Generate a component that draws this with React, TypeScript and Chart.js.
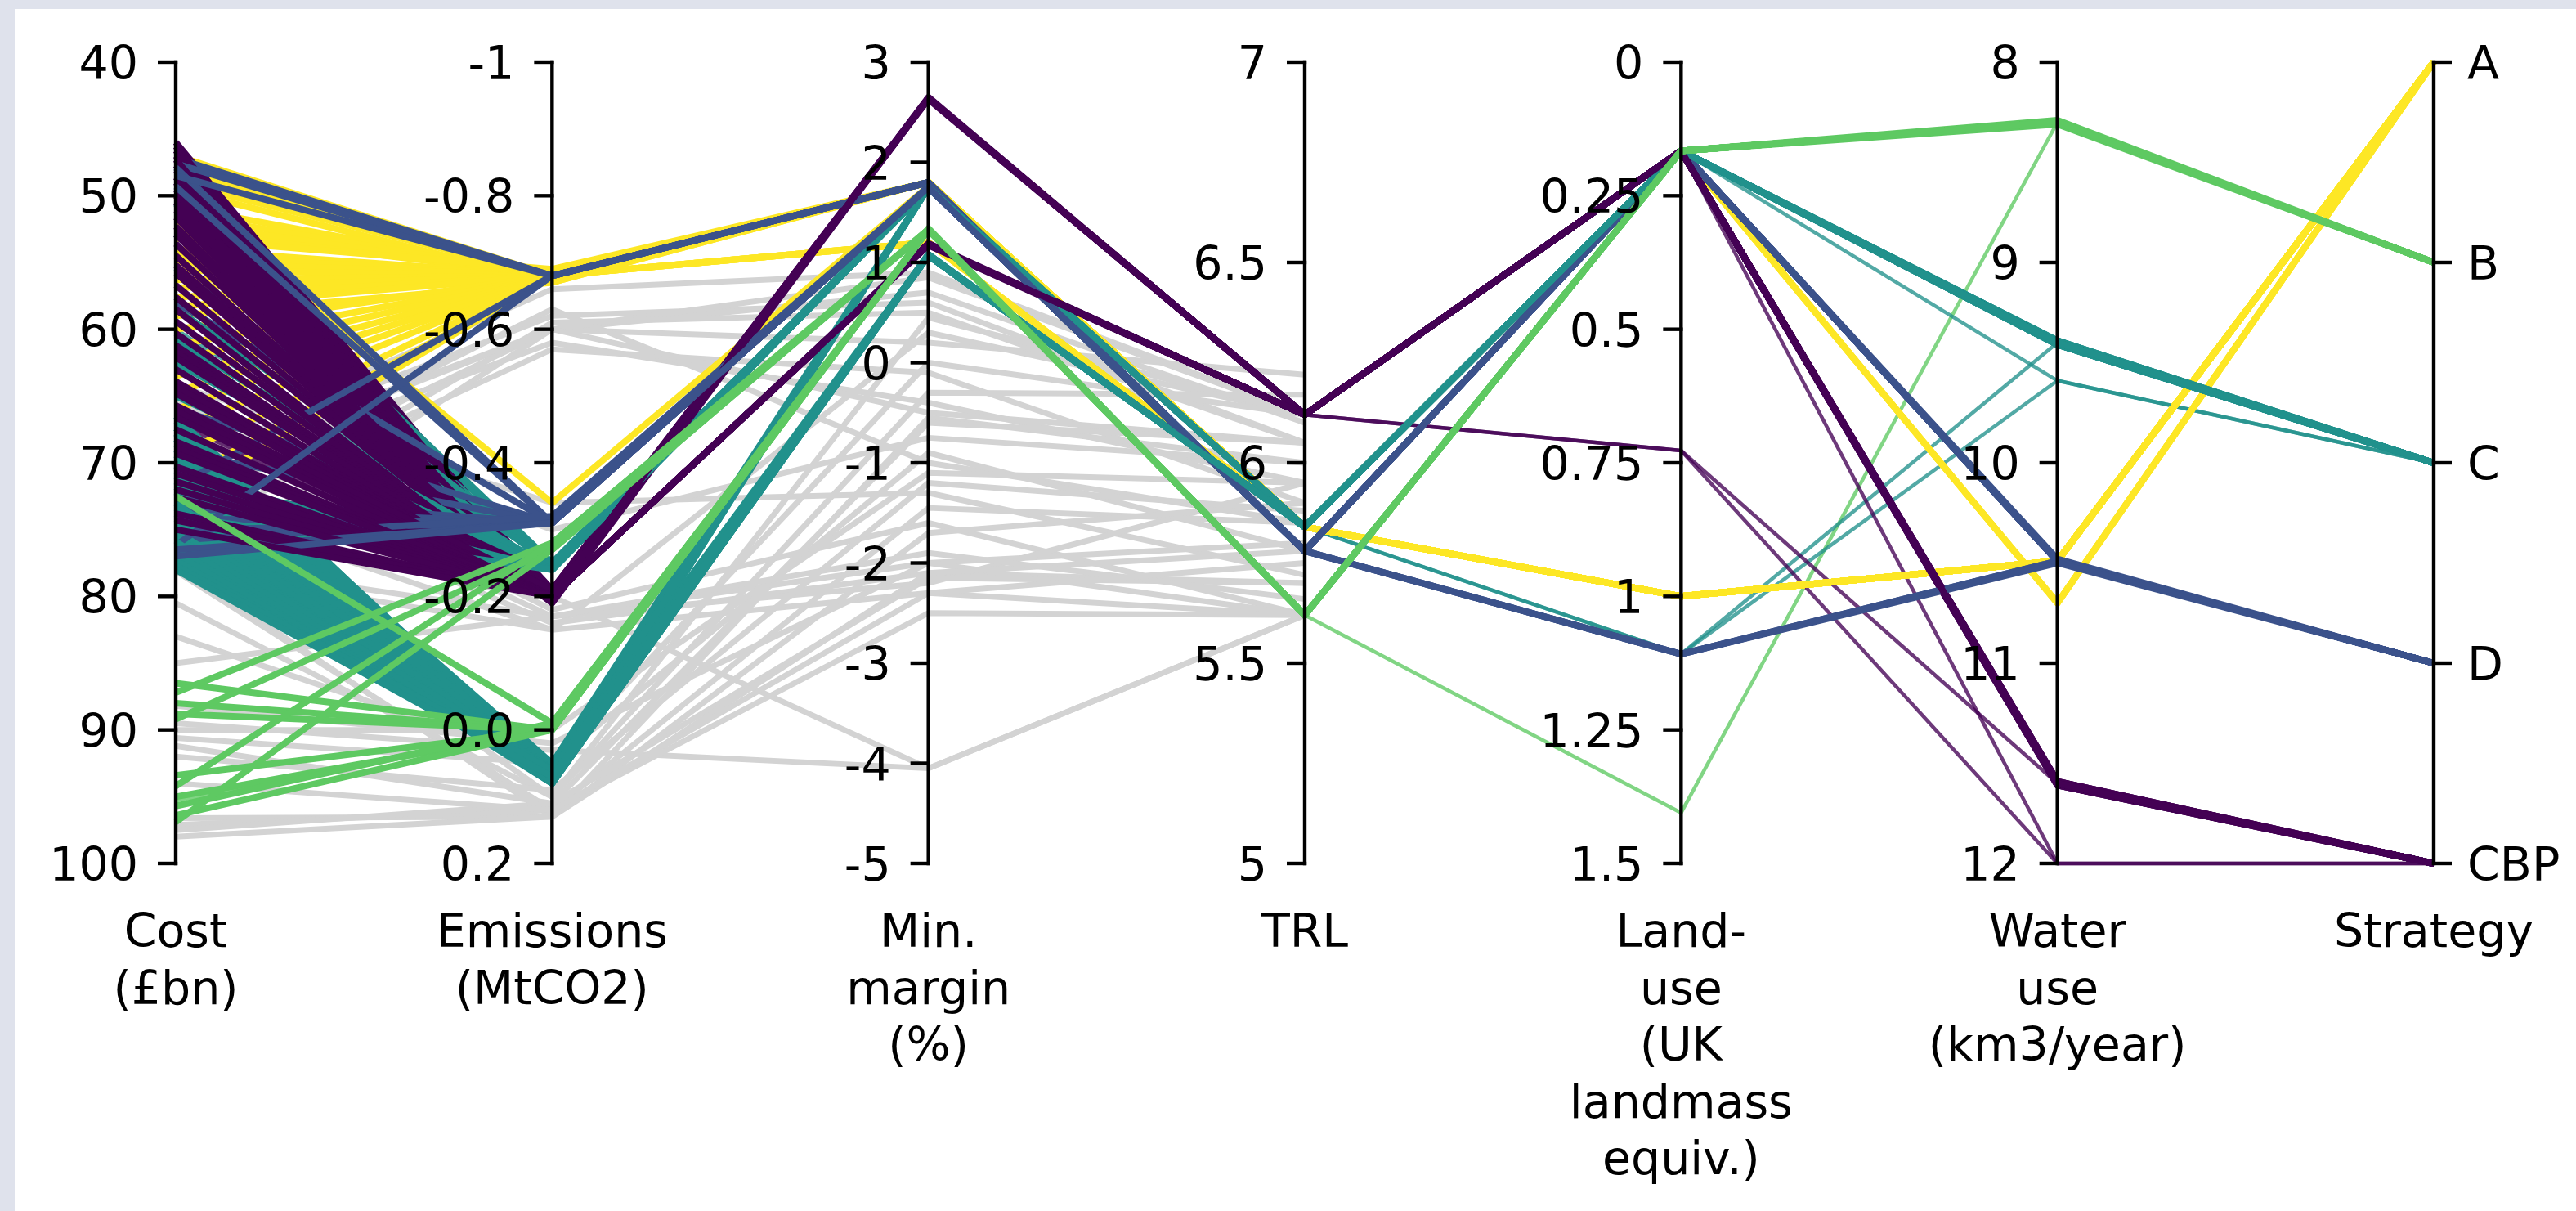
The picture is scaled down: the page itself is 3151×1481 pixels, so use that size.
import React, { useEffect, useRef } from "react";
import { Chart, registerables } from "chart.js";

Chart.register(...registerables);

// ---------------- axes ----------------
const axisTitles: string[][] = [
  ["Cost", "(£bn)"],
  ["Emissions", "(MtCO2)"],
  ["Min.", "margin", "(%)"],
  ["TRL"],
  ["Land-", "use", "(UK", "landmass", "equiv.)"],
  ["Water", "use", "(km3/year)"],
  ["Strategy"],
];
// value shown at the top / bottom end of each vertical axis
const axisTop = [40, -1, 3, 7, 0, 8, 0];
const axisBottom = [100, 0.2, -5, 5, 1.5, 12, 4];

const costTicks = [40, 50, 60, 70, 80, 90, 100];
const emissionTicks = [-1, -0.8, -0.6, -0.4, -0.2, 0, 0.2];
const emissionTickLabels = ["-1", "-0.8", "-0.6", "-0.4", "-0.2", "0.0", "0.2"];
const marginTicks = [3, 2, 1, 0, -1, -2, -3, -4, -5];
const trlTicks = [7, 6.5, 6, 5.5, 5];
const landTicks = [0, 0.25, 0.5, 0.75, 1, 1.25, 1.5];
const waterTicks = [8, 9, 10, 11, 12];
const strategies = ["A", "B", "C", "D", "CBP"];

// ---------------- solutions ----------------
// each row: [cost £bn, emissions MtCO2, min. margin %, TRL, land-use, water use km3/yr]
const strategyA: number[][] = [
  [47.0, -0.68, 1.8, 5.84, 1.0, 10.49],
  [47.8, -0.68, 1.8, 5.84, 1.0, 10.49],
  [48.2, -0.68, 1.2, 5.84, 0.166, 10.7],
  [49.0, -0.68, 1.8, 5.84, 1.0, 10.49],
  [49.5, -0.67, 1.8, 5.84, 1.0, 10.49],
  [50.0, -0.34, 1.76, 5.84, 1.0, 10.49],
  [50.8, -0.68, 1.8, 5.84, 1.0, 10.49],
  [51.4, -0.68, 1.8, 5.84, 1.0, 10.49],
  [52.0, -0.68, 1.2, 5.84, 0.166, 10.7],
  [52.6, -0.68, 1.8, 5.84, 1.0, 10.49],
  [53.2, -0.69, 1.8, 5.84, 1.0, 10.49],
  [54.0, -0.68, 1.8, 5.84, 1.0, 10.49],
  [54.5, -0.68, 1.8, 5.84, 1.0, 10.49],
  [55.0, -0.68, 1.8, 5.84, 1.0, 10.49],
  [55.6, -0.68, 1.8, 5.84, 1.0, 10.49],
  [56.3, -0.68, 1.2, 5.84, 0.166, 10.7],
  [56.9, -0.68, 1.8, 5.84, 1.0, 10.49],
  [57.6, -0.68, 1.8, 5.84, 1.0, 10.49],
  [58.3, -0.68, 1.8, 5.84, 1.0, 10.49],
  [59.0, -0.67, 1.8, 5.84, 1.0, 10.49],
  [60.0, -0.68, 1.8, 5.84, 1.0, 10.49],
  [61.2, -0.68, 1.8, 5.84, 1.0, 10.49],
  [62.3, -0.68, 1.8, 5.84, 1.0, 10.49],
  [63.5, -0.68, 1.2, 5.84, 0.166, 10.7],
  [64.7, -0.68, 1.8, 5.84, 1.0, 10.49],
  [66.0, -0.68, 1.8, 5.84, 1.0, 10.49],
  [67.5, -0.68, 1.8, 5.84, 1.0, 10.49],
  [69.5, -0.68, 1.8, 5.84, 1.0, 10.49],
  [71.5, -0.68, 1.8, 5.84, 1.0, 10.49],
  [72.8, -0.68, 1.8, 5.84, 1.0, 10.49],
];
const strategyB: number[][] = [
  [86.5, 0.0, 1.33, 5.62, 0.166, 8.3],
  [87.2, -0.28, 1.33, 5.62, 0.166, 8.3],
  [88.0, 0.0, 1.34, 5.62, 0.166, 8.29],
  [88.8, 0.0, 1.33, 5.62, 0.166, 8.3],
  [89.2, -0.27, 1.33, 5.62, 0.166, 8.3],
  [93.4, 0.0, 1.33, 5.62, 0.166, 8.3],
  [94.2, -0.28, 1.32, 5.62, 0.166, 8.31],
  [95.0, 0.0, 1.33, 5.62, 0.166, 8.3],
  [95.7, -0.01, 1.33, 5.62, 0.166, 8.3],
  [96.4, 0.0, 1.33, 5.62, 0.166, 8.3],
  [96.9, -0.27, 1.33, 5.62, 0.166, 8.3],
  [72.5, -0.01, 1.33, 5.62, 0.166, 8.3],
];
const strategyC: number[][] = [
  [49.8, -0.24, 1.75, 5.84, 0.166, 9.4],
  [66.5, 0.07, 1.08, 5.84, 0.166, 9.4],
  [66.9, 0.06, 1.75, 5.84, 0.166, 9.4],
  [50.6, -0.25, 1.74, 5.84, 0.166, 9.41],
  [67.4, 0.07, 1.75, 5.84, 0.166, 9.4],
  [67.8, 0.05, 1.07, 5.84, 0.166, 9.4],
  [52.9, -0.24, 1.75, 5.84, 0.166, 9.4],
  [68.2, 0.07, 1.07, 5.84, 0.166, 9.41],
  [68.6, 0.08, 1.75, 5.84, 0.166, 9.4],
  [55.4, -0.25, 1.75, 5.84, 0.166, 9.4],
  [69.0, 0.07, 1.08, 5.84, 0.166, 9.4],
  [69.4, 0.06, 1.07, 5.84, 0.166, 9.4],
  [58.5, -0.25, 1.75, 5.84, 0.166, 9.4],
  [69.8, 0.07, 1.75, 5.84, 0.166, 9.4],
  [70.2, 0.08, 1.07, 5.84, 0.166, 9.39],
  [60.8, -0.24, 1.75, 5.84, 0.166, 9.4],
  [70.6, 0.07, 1.07, 5.84, 0.166, 9.4],
  [71.0, 0.05, 1.75, 5.84, 0.166, 9.4],
  [62.5, -0.24, 1.75, 5.84, 0.166, 9.4],
  [71.4, 0.06, 1.07, 5.84, 0.166, 9.4],
  [71.8, 0.07, 1.08, 5.84, 0.166, 9.4],
  [65.0, -0.24, 1.76, 5.84, 0.166, 9.39],
  [72.2, 0.07, 1.75, 5.84, 0.166, 9.39],
  [72.6, 0.08, 1.07, 5.84, 0.166, 9.4],
  [71.0, -0.24, 1.75, 5.84, 0.166, 9.4],
  [73.0, 0.07, 1.07, 5.84, 0.166, 9.4],
  [73.4, 0.06, 1.07, 5.84, 0.166, 9.41],
  [73.8, 0.07, 1.08, 5.84, 0.166, 9.4],
  [74.0, -0.24, 1.75, 5.84, 0.166, 9.4],
  [74.2, 0.08, 1.75, 5.84, 0.166, 9.4],
  [74.6, 0.07, 1.75, 5.84, 0.166, 9.4],
  [75.1, 0.06, 1.07, 5.84, 0.166, 9.4],
  [75.5, 0.07, 1.07, 5.84, 0.166, 9.4],
  [75.9, 0.08, 1.07, 5.84, 0.166, 9.41],
  [76.4, 0.08, 1.07, 5.84, 0.166, 9.41],
  [76.8, 0.07, 1.75, 5.84, 0.166, 9.4],
  [77.3, 0.07, 1.75, 5.84, 0.166, 9.4],
  [77.7, 0.06, 1.07, 5.84, 0.166, 9.4],
  [78.0, 0.07, 1.07, 5.84, 0.166, 9.4],
];
const strategyD: number[][] = [
  [47.2, -0.68, 1.8, 5.78, 0.166, 10.49],
  [47.6, -0.68, 1.8, 5.78, 0.166, 10.49],
  [47.9, -0.31, 1.75, 5.78, 0.166, 10.49],
  [48.5, -0.68, 1.8, 5.78, 0.166, 10.49],
  [49.3, -0.31, 1.75, 5.78, 0.166, 10.49],
  [58.0, -0.31, 1.75, 5.78, 0.166, 10.49],
  [66.0, -0.31, 1.75, 5.78, 1.108, 10.49],
  [69.2, -0.31, 1.75, 5.78, 0.166, 10.49],
  [71.8, -0.68, 1.8, 5.78, 0.166, 10.49],
  [72.5, -0.31, 1.75, 5.78, 0.166, 10.49],
  [73.4, -0.31, 1.75, 5.78, 0.166, 10.49],
  [74.2, -0.31, 1.76, 5.78, 0.166, 10.48],
  [75.0, -0.31, 1.75, 5.78, 1.108, 10.49],
  [75.8, -0.32, 1.75, 5.78, 0.166, 10.49],
  [76.2, -0.68, 1.8, 5.78, 0.166, 10.49],
  [76.5, -0.31, 1.75, 5.78, 0.166, 10.49],
  [77.0, -0.31, 1.75, 5.78, 1.108, 10.5],
];
const strategyCBP: number[][] = [
  [46.0, -0.2, 2.64, 6.12, 0.166, 11.6],
  [46.3, -0.2, 1.18, 6.12, 0.166, 11.6],
  [46.6, -0.2, 1.18, 6.12, 0.166, 11.6],
  [47.0, -0.2, 2.64, 6.12, 0.166, 11.6],
  [47.3, -0.2, 2.64, 6.12, 0.166, 11.61],
  [47.7, -0.2, 1.18, 6.12, 0.166, 11.6],
  [48.1, -0.2, 1.18, 6.12, 0.166, 11.6],
  [48.6, -0.2, 2.64, 6.12, 0.166, 11.6],
  [49.0, -0.21, 2.64, 6.12, 0.166, 11.6],
  [49.5, -0.2, 1.18, 6.12, 0.166, 11.6],
  [50.0, -0.2, 1.19, 6.12, 0.166, 11.59],
  [50.5, -0.2, 2.64, 6.12, 0.166, 11.6],
  [51.1, -0.2, 2.64, 6.12, 0.166, 11.6],
  [51.6, -0.2, 1.18, 6.12, 0.166, 11.6],
  [52.3, -0.2, 1.18, 6.12, 0.166, 11.6],
  [52.9, -0.2, 2.64, 6.12, 0.166, 11.6],
  [53.6, -0.2, 2.65, 6.12, 0.166, 11.6],
  [54.5, -0.2, 1.18, 6.12, 0.166, 11.6],
  [55.2, -0.2, 2.64, 6.12, 0.166, 11.6],
  [55.8, -0.2, 1.18, 6.12, 0.166, 11.61],
  [56.7, -0.2, 2.64, 6.12, 0.166, 11.6],
  [57.6, -0.2, 1.18, 6.12, 0.166, 11.6],
  [58.5, -0.19, 2.64, 6.12, 0.166, 11.6],
  [59.4, -0.2, 1.18, 6.12, 0.166, 11.6],
  [60.3, -0.2, 2.64, 6.12, 0.166, 11.59],
  [61.2, -0.2, 1.18, 6.12, 0.166, 11.6],
  [61.7, -0.2, 2.64, 6.12, 0.166, 11.6],
  [62.1, -0.2, 2.64, 6.12, 0.166, 11.6],
  [63.0, -0.2, 1.17, 6.12, 0.166, 11.6],
  [63.9, -0.2, 2.64, 6.12, 0.166, 11.61],
  [64.3, -0.2, 1.18, 6.12, 0.166, 11.6],
  [64.8, -0.2, 1.18, 6.12, 0.166, 11.6],
  [65.7, -0.21, 2.64, 6.12, 0.166, 11.6],
  [66.1, -0.2, 2.64, 6.12, 0.166, 11.6],
  [66.6, -0.2, 1.18, 6.12, 0.166, 11.6],
  [67.5, -0.2, 2.63, 6.12, 0.166, 11.6],
  [68.4, -0.2, 1.18, 6.12, 0.166, 11.6],
  [68.9, -0.2, 2.64, 6.12, 0.166, 11.6],
  [69.3, -0.2, 2.64, 6.12, 0.166, 11.6],
  [70.3, -0.2, 1.18, 6.12, 0.166, 11.6],
  [70.8, -0.2, 1.18, 6.12, 0.166, 11.6],
  [71.4, -0.2, 2.64, 6.12, 0.166, 11.59],
  [72.0, -0.2, 2.64, 6.12, 0.166, 11.6],
  [72.6, -0.2, 1.18, 6.12, 0.166, 11.6],
  [73.8, -0.2, 2.64, 6.12, 0.166, 11.6],
  [74.3, -0.2, 1.18, 6.12, 0.166, 11.6],
  [75.0, -0.2, 1.18, 6.12, 0.166, 11.6],
];
// sparser solutions (drawn as thin lines)
const minorA: number[][] = [];
const minorB: number[][] = [[95.3, 0.0, 1.33, 5.62, 1.405, 8.3]];
const minorC: number[][] = [
  [60.0, -0.24, 1.75, 5.84, 0.166, 9.59],
  [70.0, 0.07, 1.07, 5.84, 1.108, 9.59],
  [75.0, 0.07, 1.75, 5.84, 1.108, 9.4],
];
const minorD: number[][] = [];
const minorCBP: number[][] = [
  [61.5, -0.2, 1.18, 6.12, 0.166, 12.0],
  [64.0, -0.2, 1.18, 6.12, 0.727, 11.6],
  [67.0, -0.2, 1.18, 6.12, 0.727, 12.0],
];
// infeasible / unselected solutions: [cost, emissions, min. margin, TRL]
const otherSolutions: number[][] = [
  [69.5, -0.66, 0.9, 6.12],
  [70.0, -0.62, 0.6, 6.05],
  [71.0, -0.6, 0.7, 6.1],
  [70.5, -0.6, 0.2, 6.22],
  [71.5, -0.58, -0.4, 5.95],
  [72.5, -0.63, -1.0, 5.85],
  [73.5, -0.6, 0.85, 6.12],
  [74.5, -0.57, -0.1, 5.9],
  [76.0, -0.61, 0.5, 6.05],
  [64.2, -0.34, -1.3, 5.72],
  [65.5, -0.3, -0.75, 6.0],
  [67.0, -0.18, -1.6, 5.62],
  [68.5, -0.17, -2.0, 5.8],
  [70.0, -0.16, -2.1, 5.7],
  [71.5, -0.2, -4.05, 5.62],
  [73.0, -0.15, 0.3, 6.12],
  [77.4, -0.17, -2.2, 5.95],
  [77.9, -0.15, -2.3, 5.62],
  [78.3, -0.6, -0.5, 6.05],
  [77.6, 0.13, -0.55, 6.0],
  [78.1, 0.12, -1.45, 5.85],
  [80.5, 0.1, 0.45, 6.12],
  [83.0, 0.05, -0.9, 5.78],
  [88.2, 0.02, -2.0, 5.62],
  [89.5, 0.03, -4.05, 5.62],
  [90.0, 0.0, -1.1, 5.95],
  [90.6, 0.05, 0.0, 6.12],
  [91.2, 0.11, -2.15, 5.7],
  [96.6, 0.13, -1.7, 5.9],
  [97.1, 0.12, -2.5, 5.62],
  [97.5, 0.11, -0.6, 6.05],
  [98.0, 0.13, -2.1, 5.78],
  [85.0, -0.17, -1.9, 5.66],
  [75.0, 0.1, -0.3, 6.17],
  [92.0, 0.09, -1.2, 5.88],
  [94.0, 0.12, -2.3, 5.75],
];

// ---------------- styling ----------------
const strategyColors = ["#fde725", "#5ec962", "#21918c", "#3b528b", "#440154"];
const otherColor = "#d3d3d3";
const FONT = '57px "DejaVu Sans"';
const TICK_LEN = 22;
const AXIS_LW = 4.4;
const MAIN_LW = 8;
const MINOR_LW = 4.5;
const OTHER_LW = 7;

const tickValues: number[][] = [costTicks, emissionTicks, marginTicks, trlTicks, landTicks, waterTicks, [0, 1, 2, 3, 4]];
const tickLabels: string[][] = [
  costTicks.map(String),
  emissionTickLabels,
  marginTicks.map(String),
  trlTicks.map(String),
  landTicks.map(String),
  waterTicks.map(String),
  strategies,
];

const toUnit = (v: number, axis: number) => (v - axisTop[axis]) / (axisBottom[axis] - axisTop[axis]);

function rowPoints(row: number[], strategyIndex: number | null) {
  const pts = row.map((v, i) => ({ x: i, y: toUnit(v, i) }));
  if (strategyIndex !== null) pts.push({ x: 6, y: toUnit(strategyIndex, 6) });
  return pts;
}

function withAlpha(hex: string, a: number) {
  const n = parseInt(hex.slice(1), 16);
  return `rgba(${(n >> 16) & 255},${(n >> 8) & 255},${n & 255},${a})`;
}

function lineDataset(points: { x: number; y: number }[], color: string, width: number) {
  return {
    data: points,
    borderColor: color,
    backgroundColor: color,
    borderWidth: width,
    pointRadius: 0,
    pointHoverRadius: 0,
    tension: 0,
    fill: false,
    clip: false as const,
    borderJoinStyle: "round" as const,
    borderCapStyle: "butt" as const,
  };
}

const allMain = [strategyA, strategyB, strategyC, strategyD, strategyCBP];

function buildDatasets() {
  const bottomToTop: any[] = [];
  otherSolutions.forEach((r) => bottomToTop.push(lineDataset(rowPoints(r, null), otherColor, OTHER_LW)));
  const minors = [minorA, minorB, minorC, minorD, minorCBP];
  minors.forEach((rows, s) =>
    rows.forEach((r) => bottomToTop.push(lineDataset(rowPoints(r, s), withAlpha(strategyColors[s], 0.78), MINOR_LW)))
  );
  const addGroup = (s: number) =>
    allMain[s].forEach((r) => bottomToTop.push(lineDataset(rowPoints(r, s), strategyColors[s], MAIN_LW)));
  // strategy A lies underneath
  addGroup(0);
  // C, D and CBP solutions are interleaved so they overlap like in the source data
  const mixed: { key: number; s: number; r: number[] }[] = [];
  [2, 3, 4].forEach((s, g) => {
    const rows = allMain[s];
    rows.forEach((r, i) => mixed.push({ key: (i + 0.5) / rows.length + g * 1e-4, s, r }));
  });
  mixed.sort((a, b) => a.key - b.key);
  mixed.forEach((o) => bottomToTop.push(lineDataset(rowPoints(o.r, o.s), strategyColors[o.s], MAIN_LW)));
  // strategy B on top
  addGroup(1);
  // Chart.js paints dataset 0 last (on top)
  return bottomToTop.reverse();
}

const axesPlugin = {
  id: "parallelAxes",
  afterDatasetsDraw(chart: any) {
    const { ctx } = chart;
    const xs = chart.scales.x;
    const ys = chart.scales.y;
    const top = ys.getPixelForValue(0);
    const bottom = ys.getPixelForValue(1);
    ctx.save();
    ctx.strokeStyle = "#000";
    ctx.fillStyle = "#000";
    ctx.lineWidth = AXIS_LW;
    ctx.lineCap = "butt";
    ctx.font = FONT;
    for (let i = 0; i < 7; i++) {
      const px = xs.getPixelForValue(i);
      const right = i === 6;
      ctx.beginPath();
      ctx.moveTo(px, top - AXIS_LW / 2);
      ctx.lineTo(px, bottom + AXIS_LW / 2);
      ctx.stroke();
      tickValues[i].forEach((v, k) => {
        const py = ys.getPixelForValue(toUnit(v, i));
        ctx.beginPath();
        if (right) {
          ctx.moveTo(px - AXIS_LW / 2, py);
          ctx.lineTo(px + TICK_LEN, py);
        } else {
          ctx.moveTo(px + AXIS_LW / 2, py);
          ctx.lineTo(px - TICK_LEN, py);
        }
        ctx.stroke();
        ctx.textBaseline = "alphabetic";
        ctx.textAlign = right ? "left" : "right";
        ctx.fillText(tickLabels[i][k], right ? px + 41 : px - 46, py + 21);
      });
      ctx.textAlign = "center";
      axisTitles[i].forEach((line, k) => {
        ctx.fillText(line, px, bottom + 102 + k * 69.5);
      });
    }
    ctx.restore();
  },
};

export default function App() {
  const ref = useRef<HTMLCanvasElement>(null);
  useEffect(() => {
    const canvas = ref.current;
    if (!canvas) return;
    const chart = new Chart(canvas, {
      type: "line",
      data: { datasets: buildDatasets() },
      options: {
        animation: false,
        responsive: false,
        devicePixelRatio: 1,
        events: [],
        parsing: false,
        normalized: true,
        layout: { padding: { left: 197, right: 174, top: 65, bottom: 425 } },
        scales: {
          x: { type: "linear", min: 0, max: 6, display: false },
          y: { type: "linear", min: 0, max: 1, reverse: true, display: false },
        },
        plugins: { legend: { display: false }, tooltip: { enabled: false }, title: { display: false } },
      },
      plugins: [axesPlugin],
    } as any);
    return () => chart.destroy();
  }, []);
  return (
    <div style={{ position: "fixed", left: 0, top: 0, width: 3151, height: 1481, background: "#dfe2ec", overflow: "hidden" }}>
      <div style={{ position: "absolute", left: 18, top: 11, width: 3133, height: 1470, background: "#ffffff" }}>
        <canvas ref={ref} width={3133} height={1470} style={{ display: "block", width: 3133, height: 1470 }} />
      </div>
    </div>
  );
}
